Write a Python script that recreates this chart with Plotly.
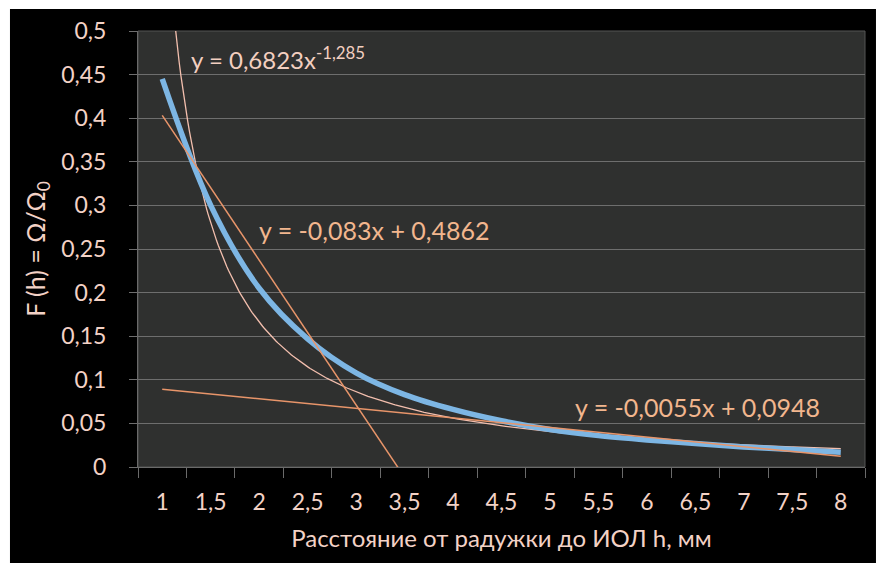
import numpy as np
import plotly.graph_objects as go

# Data
categories = ["1", "1,5", "2", "2,5", "3", "3,5", "4", "4,5", "5", "5,5", "6", "6,5", "7", "7,5", "8"]
f_values = [0.445, 0.300, 0.205, 0.147, 0.108, 0.083, 0.066, 0.053, 0.043, 0.036, 0.031, 0.027, 0.023, 0.020, 0.017]
y_ticks = [0, 0.05, 0.1, 0.15, 0.2, 0.25, 0.3, 0.35, 0.4, 0.45, 0.5]
y_tick_labels = ["0", "0,05", "0,1", "0,15", "0,2", "0,25", "0,3", "0,35", "0,4", "0,45", "0,5"]

# Trendline coefficients (as printed on the chart)
power_a, power_b = 0.6823, -1.285
lin1_k, lin1_b = -0.083, 0.4862
lin2_k, lin2_b = -0.0055, 0.0948

idx = list(range(1, len(categories) + 1))
xs = np.linspace(1, len(categories), 400)

FONT = "Lato"
TXT = "#f3d2c6"
EQ = "#f2b68e"
ORANGE = "#e8956a"

fig = go.Figure()

fig.add_trace(go.Scatter(x=xs, y=power_a * xs ** power_b, mode="lines",
                         line=dict(color="#f3bfae", width=1.3), hoverinfo="skip"))
fig.add_trace(go.Scatter(x=idx, y=f_values, mode="lines",
                         line=dict(color="#7db6e4", width=5.5, shape="spline"), name="F(h)"))
fig.add_trace(go.Scatter(x=xs, y=lin1_k * xs + lin1_b, mode="lines",
                         line=dict(color=ORANGE, width=1.5), hoverinfo="skip"))
fig.add_trace(go.Scatter(x=xs, y=lin2_k * xs + lin2_b, mode="lines",
                         line=dict(color=ORANGE, width=1.5), hoverinfo="skip"))
# invisible trace for boundary tick axis
fig.add_trace(go.Scatter(x=[0.5, 15.5], y=[0, 0], xaxis="x2", mode="lines",
                         line=dict(width=0), hoverinfo="skip"))

fig.update_layout(
    width=880, height=563,
    margin=dict(l=138, r=15, t=31, b=96),
    paper_bgcolor="white",
    plot_bgcolor="rgba(0,0,0,0)",
    showlegend=False,
    font=dict(family=FONT, color=TXT, size=23),
    shapes=[
        dict(type="rect", xref="paper", yref="paper", x0=-0.1761, x1=1.0151, y0=-0.23, y1=1.0505,
             fillcolor="black", line=dict(width=0), layer="below"),
        dict(type="rect", xref="paper", yref="paper", x0=0, x1=1, y0=0, y1=1,
             fillcolor="#2f302f", line=dict(color="#555555", width=1), layer="below"),
    ],
    xaxis=dict(
        range=[0.5, 15.5], tickvals=idx, ticktext=categories, ticks="",
        showgrid=False, zeroline=False, showline=True, linecolor="#6a6a6a", linewidth=1,
        tickfont=dict(family=FONT, size=23, color=TXT), ticklabelstandoff=14,
        title=dict(text="Расстояние от радужки до ИОЛ h, мм", font=dict(family=FONT, size=24, color=TXT),
                   standoff=16),
        fixedrange=True,
    ),
    xaxis2=dict(
        range=[0.5, 15.5], overlaying="x", side="bottom", anchor="y",
        tickvals=[i + 0.5 for i in range(0, 16)], showticklabels=False,
        ticks="outside", ticklen=10, tickcolor="#6a6a6a", tickwidth=1,
        showgrid=False, zeroline=False, showline=False,
    ),
    yaxis=dict(
        range=[0, 0.5], tickvals=y_ticks, ticktext=y_tick_labels,
        ticks="outside", ticklen=8, tickcolor="#6e6e6e",
        showgrid=True, gridcolor="#6e6e6e", gridwidth=1, zeroline=False,
        showline=True, linecolor="#6a6a6a",
        tickfont=dict(family=FONT, size=23, color=TXT), ticklabelstandoff=18,
        title=dict(text="F (h) = Ω/Ω<sub>0</sub>", font=dict(family=FONT, size=25, color=TXT), standoff=8),
    ),
    annotations=[
        dict(x=1.56, y=0.469, xref="x", yref="y", xanchor="left", yanchor="middle", showarrow=False,
             text="y = 0,6823x<sup>-1,285</sup>", font=dict(family=FONT, size=24, color="#f3cfc0")),
        dict(x=2.96, y=0.272, xref="x", yref="y", xanchor="left", yanchor="middle", showarrow=False,
             text="y = -0,083x + 0,4862", font=dict(family=FONT, size=25, color=EQ)),
        dict(x=9.47, y=0.0688, xref="x", yref="y", xanchor="left", yanchor="middle", showarrow=False,
             text="y = -0,0055x + 0,0948", font=dict(family=FONT, size=25, color=EQ)),
    ],
)

fig.write_html("out.html")
